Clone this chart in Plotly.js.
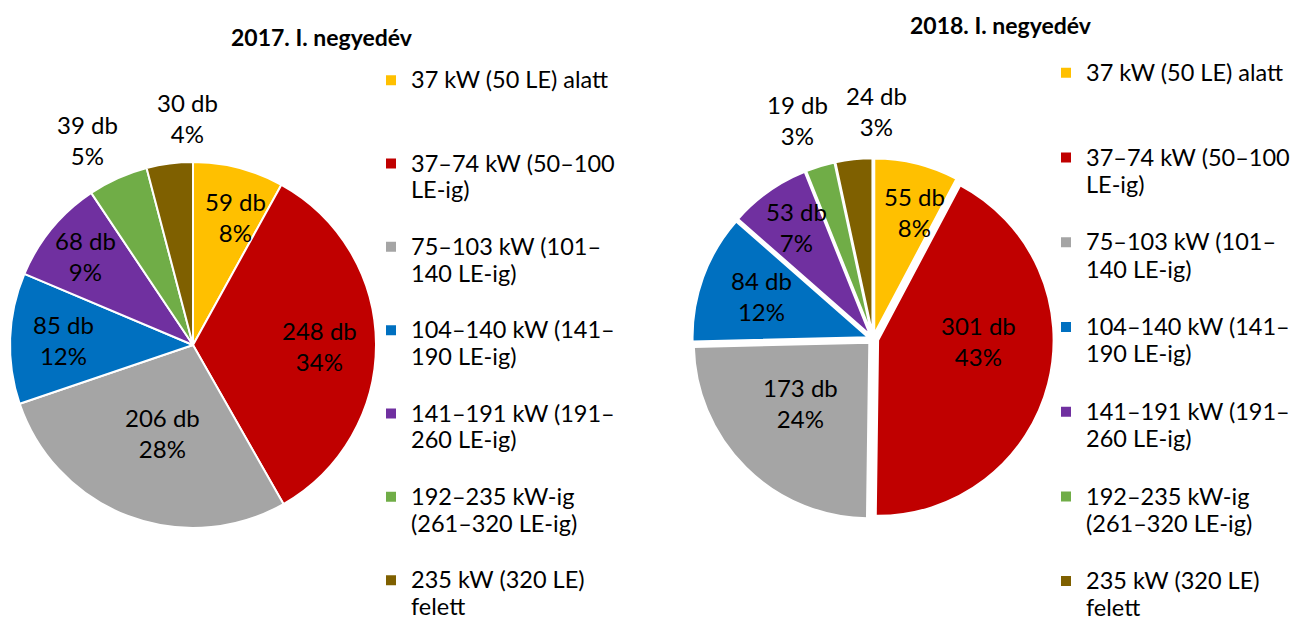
<!DOCTYPE html>
<html><head><meta charset="utf-8">
<script src="https://cdn.plot.ly/plotly-3.0.1.min.js"></script>
<style>html,body{margin:0;padding:0;background:#fff}</style>
</head><body><div id="chart" style="width:1291px;height:628px"></div>
<script>
const categories = ['37 kW (50 LE) alatt', '37–74 kW (50–100<br>LE-ig)', '75–103 kW (101–<br>140 LE-ig)', '104–140 kW (141–<br>190 LE-ig)', '141–191 kW (191–<br>260 LE-ig)', '192–235 kW-ig<br>(261–320 LE-ig)', '235 kW (320 LE)<br>felett'];
const values2017 = [59, 248, 206, 85, 68, 39, 30];
const values2018 = [55, 301, 173, 84, 53, 19, 24];
const percent2017 = [8, 34, 28, 12, 9, 5, 4];
const percent2018 = [8, 43, 24, 12, 7, 3, 3];
const titles = ['2017. I. negyedév', '2018. I. negyedév'];
const colors = ['#FFC000', '#C00000', '#A5A5A5', '#0070C0', '#7030A0', '#70AD47', '#7F6000'];

// label placement (radius fraction, angle tweak in degrees) – layout only
const labelRad2017 = [0.74, 0.69, 0.51, 0.71, 0.76, 1.26, 1.24];
const labelAng2017 = [4, 1, -2, 0, 0, -3, 6];
const labelRad2018 = [0.76, 0.60, 0.55, 0.68, 0.77, 1.32, 1.30];
const labelAng2018 = [4, -13, 4, 1, 1, -2, 7];

const FONT = 'Lato, "Open Sans", sans-serif';
const TXT = 24;
const LEG = 23.5;
const W = 1291, H = 628;

function legendLabel(c) {
  const lines = c.split('<br>').map(l => '<span style="font-size:' + LEG + 'px">' + l + '</span>');
  let s = '\u00a0<br>' + lines.join('<br>');
  if (lines.length === 1) s += '<br>\u00a0';
  return s;
}
const labels = categories.map(legendLabel);

function dom(cx, cy, half) {
  return {x: [(cx - half) / W, (cx + half) / W], y: [1 - (cy + half) / H, 1 - (cy - half) / H]};
}

function sliceLabels(values, pct, cx, cy, r, rad, dAng) {
  const total = values.reduce((a, b) => a + b, 0);
  let cum = 0;
  return values.map((v, i) => {
    const mid = (cum + v / 2) / total * 2 * Math.PI; cum += v;
    const a = mid + dAng[i] * Math.PI / 180;
    const rr = r * rad[i];
    return {
      text: v + ' db<br>' + pct[i] + '%',
      x: (cx + rr * Math.sin(a)) / W, y: 1 - (cy - rr * Math.cos(a)) / H,
      xref: 'paper', yref: 'paper', xanchor: 'center', yanchor: 'middle', showarrow: false,
      font: {family: FONT, size: TXT, color: '#000'}
    };
  });
}

const common = {
  type: 'pie', labels: labels, sort: false, direction: 'clockwise', rotation: 0,
  marker: {colors: colors, line: {color: '#fff', width: 2}},
  textinfo: 'none', hoverinfo: 'none'
};

const C1 = {cx: 193, cy: 345, r: 183};
const C2 = {cx: 873, cy: 339, r: 175.5, pull: 0.03};

const traces = [
  Object.assign({}, common, {values: values2017, domain: dom(C1.cx, C1.cy, C1.r), legend: 'legend', legendgroup: 'y2017'}),
  Object.assign({}, common, {values: values2018, pull: values2018.map(() => C2.pull), domain: dom(C2.cx, C2.cy, C2.r * (1 + C2.pull)), legend: 'legend2', legendgroup: 'y2018'})
];

const legendBase = {xanchor: 'left', yanchor: 'top', bgcolor: 'rgba(0,0,0,0)', borderwidth: 0, traceorder: 'normal', itemclick: false, itemdoubleclick: false};
const titleAnn = (t, x, y) => ({text: '<b>' + t + '</b>', x: x / W, y: 1 - y / H, xref: 'paper', yref: 'paper', xanchor: 'center', yanchor: 'middle', showarrow: false, font: {family: FONT, size: 23, color: '#000'}});

const layout = {
  width: W, height: H, margin: {l: 0, r: 0, t: 0, b: 0, autoexpand: false},
  paper_bgcolor: '#fff', font: {family: FONT, color: '#000'},
  showlegend: true,
  legend: Object.assign({}, legendBase, {x: 371 / W, y: 1 - 33.5 / H, font: {family: FONT, size: 20.6, color: '#000'}}),
  legend2: Object.assign({}, legendBase, {x: 1046 / W, y: 1 - 25.5 / H, font: {family: FONT, size: 20.95, color: '#000'}}),
  annotations: [titleAnn(titles[0], 322, 37), titleAnn(titles[1], 1001, 25)]
    .concat(sliceLabels(values2017, percent2017, C1.cx, C1.cy, C1.r, labelRad2017, labelAng2017))
    .concat(sliceLabels(values2018, percent2018, C2.cx, C2.cy, C2.r, labelRad2018, labelAng2018))
};
Plotly.newPlot('chart', traces, layout, {displayModeBar: false, staticPlot: true});
</script></body></html>
